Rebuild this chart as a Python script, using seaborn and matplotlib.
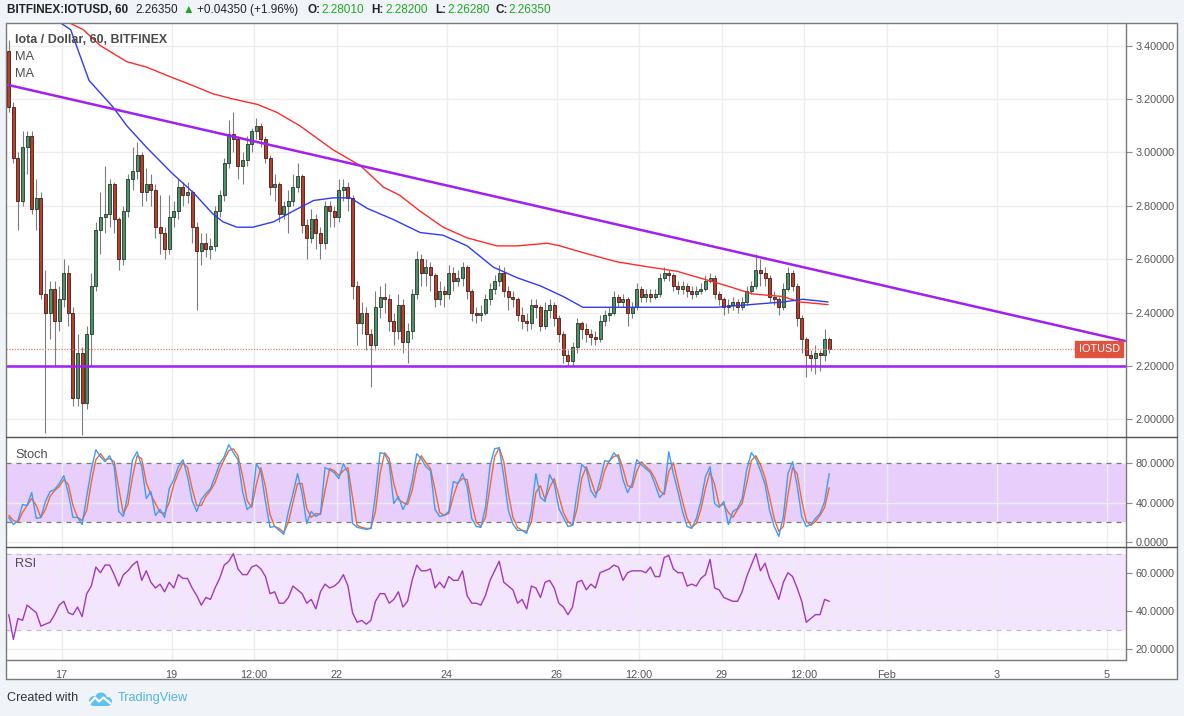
import numpy as np
import pandas as pd
import matplotlib
matplotlib.use("Agg")
import matplotlib.pyplot as plt
from matplotlib.lines import Line2D
from matplotlib.patches import Rectangle, Circle
from matplotlib.ticker import FormatStrFormatter
import seaborn as sns

W, H = 1184, 716

# ---- data (2-hour candles, x in hours from 16 Jan 00:00) ----
first_open = 3.38
closes = [
    3.17, 2.98, 2.82, 3.02, 3.06, 2.79, 2.83, 2.47, 2.40, 2.49,
    2.37, 2.45, 2.55, 2.40, 2.08, 2.25, 2.06, 2.32, 2.50, 2.71,
    2.76, 2.77, 2.88, 2.75, 2.60, 2.78, 2.90, 2.93, 2.99, 2.85,
    2.88, 2.86, 2.72, 2.70, 2.64, 2.76, 2.78, 2.87, 2.84, 2.85,
    2.72, 2.63, 2.66, 2.64, 2.65, 2.78, 2.84, 2.96, 3.07, 3.05,
    2.95, 2.97, 3.03, 3.08, 3.10, 3.05, 2.98, 2.87, 2.88, 2.77,
    2.80, 2.82, 2.87, 2.91, 2.73, 2.68, 2.75, 2.70, 2.66, 2.80,
    2.78, 2.76, 2.86, 2.87, 2.83, 2.50, 2.36, 2.40, 2.32, 2.28,
    2.42, 2.46, 2.45, 2.37, 2.33, 2.43, 2.29, 2.33, 2.47, 2.60,
    2.55, 2.57, 2.54, 2.45, 2.48, 2.47, 2.55, 2.52, 2.53, 2.57,
    2.48, 2.40, 2.39, 2.40, 2.45, 2.49, 2.52, 2.55, 2.48, 2.46,
    2.45, 2.39, 2.37, 2.36, 2.43, 2.42, 2.35, 2.41, 2.43, 2.38,
    2.32, 2.24, 2.22, 2.27, 2.36, 2.34, 2.32, 2.31, 2.30, 2.37,
    2.39, 2.40, 2.46, 2.44, 2.45, 2.40, 2.42, 2.49, 2.46, 2.47,
    2.46, 2.47, 2.53, 2.55, 2.54, 2.50, 2.49, 2.50, 2.48, 2.47,
    2.48, 2.49, 2.52, 2.53, 2.47, 2.45, 2.42, 2.43, 2.44, 2.42,
    2.44, 2.48, 2.50, 2.56, 2.55, 2.53, 2.46, 2.45, 2.42, 2.49,
    2.55, 2.50, 2.38, 2.30, 2.24, 2.23, 2.25, 2.24, 2.30, 2.2635,
]
highs = [
    3.42, 3.19, 3.00, 3.08, 3.08, 3.08, 2.90, 2.85, 2.56, 2.52,
    2.52, 2.50, 2.60, 2.58, 2.42, 2.32, 2.27, 2.35, 2.55, 2.74,
    2.85, 2.95, 2.90, 2.89, 2.76, 2.80, 2.92, 3.02, 3.04, 3.00,
    2.94, 2.92, 2.88, 2.84, 2.72, 2.84, 2.82, 2.90, 2.89, 2.89,
    2.86, 2.74, 2.70, 2.70, 2.68, 2.80, 2.86, 2.98, 3.12, 3.15,
    3.06, 3.00, 3.06, 3.09, 3.13, 3.11, 3.06, 2.99, 2.92, 2.89,
    2.82, 2.86, 2.92, 2.96, 2.92, 2.75, 2.79, 2.77, 2.72, 2.82,
    2.82, 2.80, 2.90, 2.90, 2.89, 2.84, 2.52, 2.44, 2.42, 2.34,
    2.48, 2.50, 2.51, 2.47, 2.40, 2.47, 2.45, 2.36, 2.49, 2.63,
    2.62, 2.60, 2.59, 2.55, 2.52, 2.50, 2.58, 2.57, 2.56, 2.59,
    2.58, 2.49, 2.42, 2.43, 2.47, 2.51, 2.54, 2.58, 2.57, 2.50,
    2.48, 2.46, 2.42, 2.40, 2.45, 2.45, 2.43, 2.44, 2.45, 2.44,
    2.39, 2.33, 2.26, 2.29, 2.38, 2.37, 2.36, 2.34, 2.33, 2.39,
    2.41, 2.42, 2.48, 2.47, 2.47, 2.46, 2.44, 2.51, 2.50, 2.49,
    2.49, 2.49, 2.55, 2.57, 2.56, 2.55, 2.52, 2.52, 2.51, 2.50,
    2.50, 2.51, 2.54, 2.55, 2.54, 2.48, 2.46, 2.45, 2.46, 2.45,
    2.46, 2.50, 2.52, 2.62, 2.60, 2.57, 2.54, 2.48, 2.46, 2.51,
    2.57, 2.56, 2.51, 2.39, 2.31, 2.26, 2.28, 2.26, 2.34, 2.31,
]
lows = [
    3.15, 2.96, 2.71, 2.80, 2.92, 2.77, 2.71, 2.45, 1.95, 2.30,
    2.20, 2.33, 2.42, 2.35, 2.05, 2.05, 1.94, 2.04, 2.20, 2.48,
    2.62, 2.70, 2.72, 2.70, 2.56, 2.58, 2.76, 2.86, 2.90, 2.80,
    2.82, 2.80, 2.68, 2.62, 2.60, 2.62, 2.72, 2.75, 2.80, 2.81,
    2.66, 2.41, 2.58, 2.61, 2.60, 2.63, 2.76, 2.82, 2.94, 3.00,
    2.90, 2.88, 2.95, 3.00, 3.05, 3.02, 2.96, 2.84, 2.82, 2.74,
    2.75, 2.70, 2.80, 2.85, 2.70, 2.60, 2.66, 2.64, 2.60, 2.64,
    2.72, 2.72, 2.74, 2.82, 2.78, 2.45, 2.28, 2.32, 2.26, 2.12,
    2.26, 2.38, 2.40, 2.33, 2.28, 2.30, 2.25, 2.21, 2.30, 2.45,
    2.50, 2.50, 2.48, 2.42, 2.43, 2.42, 2.45, 2.48, 2.50, 2.50,
    2.45, 2.37, 2.36, 2.37, 2.39, 2.43, 2.47, 2.50, 2.46, 2.41,
    2.42, 2.37, 2.34, 2.33, 2.34, 2.38, 2.33, 2.34, 2.38, 2.35,
    2.29, 2.21, 2.20, 2.20, 2.25, 2.30, 2.29, 2.28, 2.28, 2.29,
    2.35, 2.37, 2.39, 2.42, 2.42, 2.35, 2.38, 2.41, 2.44, 2.44,
    2.44, 2.45, 2.46, 2.52, 2.52, 2.48, 2.47, 2.47, 2.46, 2.45,
    2.46, 2.47, 2.48, 2.51, 2.45, 2.43, 2.39, 2.40, 2.41, 2.40,
    2.41, 2.43, 2.47, 2.49, 2.50, 2.50, 2.44, 2.43, 2.39, 2.41,
    2.48, 2.48, 2.35, 2.25, 2.16, 2.18, 2.17, 2.18, 2.22, 2.25,
]

# moving averages (hour, value) vertices
ma_fast_h = [21, 28, 36, 46.5, 52.5, 61, 72.5, 81.5, 90, 94.5, 100.5, 107.5, 116.5, 125,
             134, 142.5, 150, 157.5, 168.5, 180.5, 190.5, 201, 212.5, 223, 233, 243,
             251.5, 266.5, 281, 299.5, 310, 324.5, 339, 347.5, 358.5]
ma_fast_v = [3.50, 3.46, 3.27, 3.17, 3.10, 3.02, 2.92, 2.85, 2.77, 2.74, 2.72, 2.72, 2.74, 2.78,
             2.82, 2.83, 2.83, 2.79, 2.75, 2.70, 2.69, 2.65, 2.57, 2.53, 2.50, 2.46,
             2.42, 2.42, 2.42, 2.42, 2.42, 2.43, 2.44, 2.45, 2.44]
ma_slow_h = [24, 33.5, 41, 52.5, 61, 72.5, 81.5, 90, 99, 109.5, 118, 128, 142.5, 154.5,
             164.5, 171.5, 180.5, 190.5, 201, 214, 223, 236, 241.5, 253.5, 266.5, 281,
             292.5, 302.5, 314.5, 325.5, 339, 346, 358.5]
ma_slow_v = [3.50, 3.46, 3.40, 3.34, 3.32, 3.28, 3.25, 3.22, 3.20, 3.18, 3.15, 3.10, 3.01, 2.95,
             2.87, 2.84, 2.78, 2.72, 2.68, 2.65, 2.65, 2.66, 2.65, 2.62, 2.59, 2.57,
             2.555, 2.53, 2.50, 2.47, 2.46, 2.44, 2.43]

trend_h = [0.7, 488.0]
trend_v = [3.253, 2.294]
support_level = 2.199
last_price = 2.2635

stoch_k = [
    25, 18, 22, 38, 37, 50, 24, 25, 41, 51,
    53, 59, 67, 49, 25, 25, 18, 46, 73, 93,
    86, 81, 87, 76, 31, 26, 49, 83, 91, 76,
    44, 51, 27, 33, 25, 54, 63, 76, 83, 66,
    42, 31, 43, 49, 54, 66, 79, 86, 98, 90,
    83, 51, 33, 37, 79, 71, 41, 15, 16, 12,
    8, 31, 49, 69, 49, 19, 31, 26, 29, 75,
    73, 70, 64, 79, 70, 19, 15, 14, 13, 14,
    48, 90, 89, 79, 39, 46, 33, 42, 61, 89,
    84, 76, 72, 33, 26, 27, 31, 61, 59, 69,
    56, 24, 16, 15, 35, 77, 94, 95, 66, 32,
    18, 12, 12, 9, 31, 69, 45, 41, 68, 59,
    34, 25, 16, 17, 50, 78, 74, 52, 45, 62,
    82, 81, 90, 85, 63, 50, 59, 83, 78, 74,
    70, 58, 45, 50, 91, 69, 51, 31, 16, 14,
    24, 41, 66, 76, 39, 35, 41, 18, 31, 34,
    44, 73, 90, 84, 72, 58, 32, 16, 6, 26,
    69, 81, 57, 26, 16, 18, 24, 29, 41, 69,
]
stoch_d = [
    27, 22, 20, 30, 37, 44, 37, 25, 33, 46,
    52, 56, 63, 58, 37, 25, 22, 32, 60, 83,
    89, 83, 84, 81, 54, 29, 38, 66, 87, 84,
    60, 48, 39, 30, 29, 40, 58, 70, 80, 75,
    54, 37, 37, 46, 52, 60, 73, 83, 92, 94,
    87, 67, 42, 35, 58, 75, 56, 28, 16, 14,
    10, 20, 40, 59, 59, 34, 25, 29, 28, 52,
    74, 72, 67, 72, 75, 45, 17, 15, 14, 14,
    31, 69, 90, 84, 59, 43, 40, 38, 52, 75,
    87, 80, 74, 53, 30, 27, 29, 46, 60, 64,
    63, 40, 20, 16, 25, 56, 86, 95, 81, 49,
    25, 15, 12, 11, 20, 50, 57, 43, 55, 64,
    47, 30, 21, 17, 34, 64, 76, 63, 49, 54,
    72, 82, 86, 88, 74, 57, 55, 71, 81, 76,
    72, 64, 52, 48, 71, 80, 60, 41, 24, 15,
    19, 33, 54, 71, 58, 37, 38, 30, 25, 33,
    39, 59, 82, 87, 78, 65, 45, 24, 11, 16,
    48, 75, 69, 42, 21, 17, 21, 27, 35, 55,
]
rsi = [
    38, 25, 36, 35, 43, 41, 39, 32, 33, 34,
    38, 43, 45, 39, 38, 42, 37, 49, 53, 63,
    60, 64, 64, 59, 53, 59, 61, 64, 66, 56,
    61, 55, 52, 54, 50, 55, 52, 59, 57, 57,
    52, 48, 43, 47, 46, 52, 57, 64, 66, 70,
    62, 59, 59, 63, 64, 62, 58, 49, 50, 44,
    44, 47, 53, 51, 49, 44, 46, 41, 50, 54,
    52, 53, 55, 59, 53, 39, 34, 35, 33, 35,
    45, 49, 49, 44, 46, 50, 42, 45, 56, 64,
    61, 61, 62, 52, 55, 52, 58, 56, 56, 61,
    48, 44, 44, 43, 48, 56, 61, 66, 55, 53,
    51, 44, 46, 41, 53, 52, 47, 55, 56, 52,
    44, 42, 38, 42, 55, 56, 51, 54, 52, 60,
    61, 62, 64, 63, 56, 60, 61, 61, 61, 60,
    63, 58, 58, 68, 69, 62, 60, 60, 53, 54,
    53, 57, 59, 67, 52, 51, 47, 46, 45, 45,
    50, 58, 64, 70, 61, 65, 57, 52, 46, 55,
    60, 58, 52, 45, 34, 36, 38, 38, 46, 45,
]

price_ticks = [2.0, 2.2, 2.4, 2.6, 2.8, 3.0, 3.2, 3.4]
stoch_ticks = [0, 40, 80]
rsi_ticks = [20, 40, 60]
x_tick_hours = [24, 72, 108, 144, 192, 240, 276, 312, 348, 384, 432, 480]
x_tick_labels = ["17", "19", "12:00", "22", "24", "26", "12:00", "29", "12:00", "Feb", "3", "5"]

hours = np.arange(len(closes)) * 2 + 1
opens = [first_open] + closes[:-1]
candles = pd.DataFrame({"h": hours, "o": opens, "c": closes, "hi": highs, "lo": lows})

# ---- figure ----
sns.set_style("white")
plt.rcParams["font.family"] = ["Liberation Sans", "DejaVu Sans"]

fig = plt.figure(figsize=(W / 100, H / 100), dpi=100)
fig.patch.set_facecolor("#f0f3f7")


def fx(x):
    return x / W


def fy(y):
    return 1 - y / H


def fig_line(x0, y0, x1, y1, color="#7a7a7a", lw=1.0):
    fig.add_artist(Line2D([fx(x0), fx(x1)], [fy(y0), fy(y1)], transform=fig.transFigure,
                          color=color, lw=lw, zorder=10))


fig.add_artist(Rectangle((fx(5.5), fy(679)), (1177 - 5.5) / W, (679 - 23) / H,
                         transform=fig.transFigure, facecolor="white", edgecolor="none", zorder=-1))

LEFT, RIGHT = 6, 1126


def panel(top, bottom):
    return fig.add_axes([LEFT / W, 1 - bottom / H, (RIGHT - LEFT) / W, (bottom - top) / H])


ax_p = panel(23, 437)
ax_s = panel(437, 547)
ax_r = panel(547, 660)

hpp = 24 / 55  # hours per pixel
x_lo, x_hi = (LEFT - 6.5) * hpp, (RIGHT - 6.5) * hpp

for ax in (ax_p, ax_s, ax_r):
    ax.set_facecolor("white")
    ax.set_xlim(x_lo, x_hi)
    ax.set_xticks(x_tick_hours)
    ax.grid(True, color="#ededed", lw=1)
    ax.set_axisbelow(True)
    for s in ax.spines.values():
        s.set_visible(False)
    ax.yaxis.tick_right()
    ax.tick_params(axis="y", direction="out", length=4, width=0.8, color="#8a8a8a",
                   labelcolor="#555555", labelsize=7.8, pad=3)
    ax.tick_params(axis="x", length=0, labelbottom=False)

# price panel
ax_p.set_ylim(1.934, 3.485)
ax_p.set_yticks(price_ticks)
ax_p.yaxis.set_major_formatter(FormatStrFormatter("%.5f"))

up = candles["c"] >= candles["o"]
body_lo = np.minimum(candles["o"], candles["c"])
body_h = np.maximum((candles["c"] - candles["o"]).abs(), 0.004)
ax_p.vlines(candles["h"], candles["lo"], candles["hi"], color="#7d7d7d", lw=0.8, zorder=2)
ax_p.bar(candles["h"][up], body_h[up], bottom=body_lo[up], width=1.3, color="#4f8f69",
         edgecolor="#1e3a29", linewidth=0.6, zorder=3)
ax_p.bar(candles["h"][~up], body_h[~up], bottom=body_lo[~up], width=1.3, color="#b5402d",
         edgecolor="#4a1710", linewidth=0.6, zorder=3)

sns.lineplot(x=ma_slow_h, y=ma_slow_v, ax=ax_p, color="#ff2b2b", lw=1.0, zorder=4)
sns.lineplot(x=ma_fast_h, y=ma_fast_v, ax=ax_p, color="#2d3cf0", lw=1.0, zorder=4)
sns.lineplot(x=trend_h, y=trend_v, ax=ax_p, color="#a020f0", lw=1.8, zorder=5)
ax_p.axhline(support_level, color="#a020f0", lw=1.8, zorder=5)

label_h = (1099 - 6.5) * hpp
ax_p.plot([x_lo, label_h - 10], [last_price, last_price], color="#ee7b7b",
          ls=(0, (1, 1.2)), lw=0.9, zorder=4)
ax_p.text(label_h, last_price, "IOTUSD", ha="center", va="center", fontsize=7.8, color="white",
          zorder=6, bbox=dict(boxstyle="square,pad=0.28", facecolor="#e0533f", edgecolor="#e0533f"))
ax_p.set_xlabel("")
ax_p.set_ylabel("")

# stochastic panel
ax_s.set_ylim(-4.7, 105.8)
ax_s.set_yticks(stoch_ticks)
ax_s.yaxis.set_major_formatter(FormatStrFormatter("%.4f"))
ax_s.axhspan(20, 80, color="#e8cffb", zorder=0.1, lw=0)
for lvl in (20, 80):
    ax_s.axhline(lvl, color="#7a7a7a", ls=(0, (4, 4)), lw=0.9, zorder=1)
sns.lineplot(x=hours, y=stoch_d, ax=ax_s, color="#f4672f", lw=1.0, zorder=3)
sns.lineplot(x=hours, y=stoch_k, ax=ax_s, color="#3f9bf4", lw=1.0, zorder=3)
ax_s.set_xlabel("")
ax_s.set_ylabel("")

# RSI panel
ax_r.set_ylim(14.2, 73.5)
ax_r.set_yticks(rsi_ticks)
ax_r.yaxis.set_major_formatter(FormatStrFormatter("%.4f"))
ax_r.axhspan(30, 70, color="#f3e5fd", zorder=0.1, lw=0)
for lvl in (30, 70):
    ax_r.axhline(lvl, color="#c8b6d3", ls=(0, (4, 4)), lw=0.9, zorder=1)
sns.lineplot(x=hours, y=rsi, ax=ax_r, color="#a03ab8", lw=1.0, zorder=3)
ax_r.set_xticklabels(x_tick_labels)
ax_r.tick_params(axis="x", length=4, width=0.8, color="#8a8a8a", labelbottom=True,
                 labelsize=7.8, labelcolor="#555555", pad=3)
ax_r.set_xlabel("")
ax_r.set_ylabel("")

# frame and separators
fig_line(5.5, 23, 1177, 23)
fig_line(5.5, 679, 1177, 679)
fig_line(5.5, 23, 5.5, 679)
fig_line(1177, 23, 1177, 679)
fig_line(1126, 23, 1126, 660)
fig_line(5.5, 660, 1126, 660)
fig_line(5.5, 437, 1177, 437, color="#505050")
fig_line(5.5, 547, 1177, 547, color="#505050")

# header
hy = fy(10)
hdr = [
    (7, "BITFINEX:IOTUSD, 60", "#222222", "bold"),
    (135, "2.26350", "#222222", "normal"),
    (183, "\u25b2", "#1fa51f", "normal"),
    (197, "+0.04350 (+1.96%)", "#222222", "normal"),
    (308, "O:", "#222222", "bold"),
    (321, "2.28010", "#22a822", "normal"),
    (371, "H:", "#222222", "bold"),
    (385, "2.28200", "#22a822", "normal"),
    (435, "L:", "#222222", "bold"),
    (447, "2.26280", "#22a822", "normal"),
    (496, "C:", "#222222", "bold"),
    (508, "2.26350", "#22a822", "normal"),
]
for x, s, col, wt in hdr:
    fig.text(fx(x), hy, s, color=col, fontweight=wt, fontsize=8.5, ha="left", va="center")

# legends inside panels
fig.text(fx(15), fy(40), "Iota / Dollar, 60, BITFINEX", color="#4a4a4a", fontsize=8.9,
         fontweight="bold", va="center")
fig.text(fx(15), fy(57), "MA", color="#4d4d4d", fontsize=9.2, va="center")
fig.text(fx(15), fy(74), "MA", color="#4d4d4d", fontsize=9.2, va="center")
fig.text(fx(15), fy(455), "Stoch", color="#4d4d4d", fontsize=9.2, va="center")
fig.text(fx(15), fy(564), "RSI", color="#4d4d4d", fontsize=9.2, va="center")

# footer
fig.text(fx(7), fy(698), "Created with", color="#333333", fontsize=9.1, va="center")
fig.text(fx(118), fy(698), "TradingView", color="#52b4e6", fontsize=9.2, va="center")
ax_logo = fig.add_axes([fx(87), fy(707), 26 / W, 15 / H])
ax_logo.set_xlim(0, 26)
ax_logo.set_ylim(0, 15)
ax_logo.axis("off")
for cx, cy, r in [(7, 6, 5), (14, 8.5, 6), (20.5, 5.5, 4.5)]:
    ax_logo.add_patch(Circle((cx, cy), r, color="#5ec2ee", lw=0))
ax_logo.add_patch(Rectangle((6, 1), 15, 5, color="#5ec2ee", lw=0))
ax_logo.plot([2.5, 8, 12, 16.5, 23.5], [3.5, 9.5, 5.5, 9.5, 3.5], color="white", lw=1.6,
             solid_capstyle="round")

fig.savefig("out.png", dpi=100, facecolor=fig.get_facecolor())
